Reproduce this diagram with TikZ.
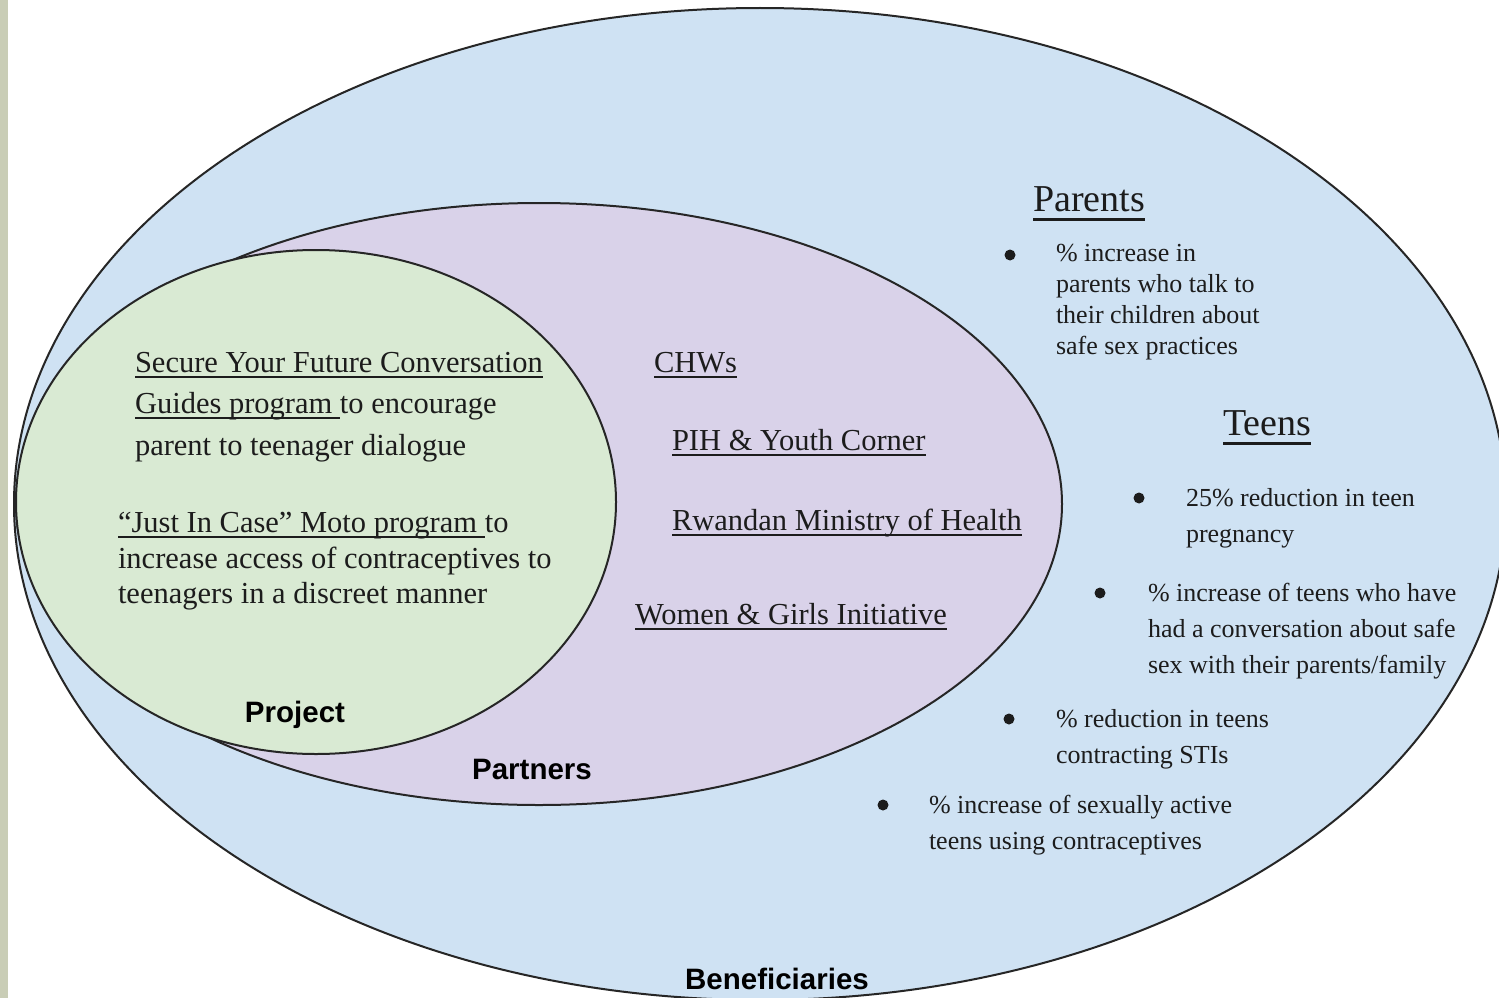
\documentclass[tikz,border=0pt]{standalone}
\usepackage{fontspec}
\setmainfont{Liberation Serif}
\setsansfont{Liberation Sans}

\definecolor{lblue}{HTML}{CFE2F3}
\definecolor{lpurple}{HTML}{D9D2E9}
\definecolor{lgreen}{HTML}{D9EAD3}
\definecolor{strip}{HTML}{C9CDB6}
\definecolor{ink}{HTML}{1C1C1C}

% underline set at a fixed depth below the baseline, through descenders
\newsavebox\ulinebox
\newcommand\ulText[2][0.2em]{%
  \sbox\ulinebox{#2}%
  \rlap{\rule[-#1]{\wd\ulinebox}{0.075em}}\usebox\ulinebox}

\begin{document}
\begin{tikzpicture}[x=1pt,y=-1pt,
  ring/.style={draw=black!85,line width=2pt},
  body/.style={inner sep=0,outer sep=0,anchor=base west,text=ink,
               font=\fontsize{30.5}{36}\selectfont},
  item/.style={inner sep=0,outer sep=0,anchor=base west,text=ink,
               font=\fontsize{26}{31}\selectfont},
  head/.style={inner sep=0,outer sep=0,anchor=base west,text=ink,
               font=\fontsize{38}{44}\selectfont},
  tag/.style={inner sep=0,outer sep=0,anchor=base,text=black,
              font=\sffamily\bfseries\fontsize{29.5}{34}\selectfont},
  dot/.style={circle,fill=ink,inner sep=0,minimum size=11pt}]

\useasboundingbox (0,0) rectangle (1499,998);
\fill[white] (0,0) rectangle (1499,998);
\fill[strip] (0,0) rectangle (8,998);

% nested circles: beneficiaries, partners, project
\begin{scope}
  \clip (8,0) rectangle (1499,998);
  \draw[ring,fill=lblue]   (760,504) ellipse [x radius=746pt, y radius=496pt];
  \draw[ring,fill=lpurple] (539,504) ellipse [x radius=523pt, y radius=301pt];
  \draw[ring,fill=lgreen]  (316,502) ellipse [x radius=300pt, y radius=252pt];
\end{scope}

% project
\node[body] (p1) at (135,372) {\ulText{Secure Your Future Conversation}};
\node[body] (p2) at (135,413) {\ulText{Guides program\ }to encourage};
\node[body] (p3) at (135,455) {parent to teenager dialogue};
\node[body] (p4) at (118,532) {\ulText{“Just In Case” Moto program\ }to};
\node[body] (p5) at (118,568) {increase access of contraceptives to};
\node[body] (p6) at (118,603) {teenagers in a discreet manner};
\node[tag] (project) at (295,722) {Project};

% partners
\node[body] (c1) at (654,372) {\ulText{CHWs}};
\node[body] (c2) at (672,450) {\ulText{PIH \& Youth Corner}};
\node[body] (c3) at (672,530) {\ulText{Rwandan Ministry of Health}};
\node[body] (c4) at (635,624) {\ulText{Women \& Girls Initiative}};
\node[tag] (partners) at (532,779) {Partners};

% beneficiaries: parents
\node[head] (parents) at (1033,211) {\ulText[0.25em]{Parents}};
\node[dot] (d1) at (1010,255) {};
\node[item] (a1) at (1056,261) {\% increase in};
\node[item] (a2) at (1056,292) {parents who talk to};
\node[item] (a3) at (1056,323) {their children about};
\node[item] (a4) at (1056,354) {safe sex practices};

% beneficiaries: teens
\node[head] (teens) at (1223,435) {\ulText[0.25em]{Teens}};
\node[dot] (d2) at (1139,498) {};
\node[item] (t1) at (1186,506) {25\% reduction in teen};
\node[item] (t2) at (1186,542) {pregnancy};
\node[dot] (d3) at (1100,593) {};
\node[item] (t3) at (1148,601) {\% increase of teens who have};
\node[item] (t4) at (1148,637) {had a conversation about safe};
\node[item] (t5) at (1148,673) {sex with their parents/family};
\node[dot] (d4) at (1009,719) {};
\node[item] (t6) at (1056,727) {\% reduction in teens};
\node[item] (t7) at (1056,763) {contracting STIs};
\node[dot] (d5) at (883,805) {};
\node[item] (t8) at (929,813) {\% increase of sexually active};
\node[item] (t9) at (929,849) {teens using contraceptives};

\node[tag] (benef) at (777,989) {Beneficiaries};
\end{tikzpicture}
\end{document}
